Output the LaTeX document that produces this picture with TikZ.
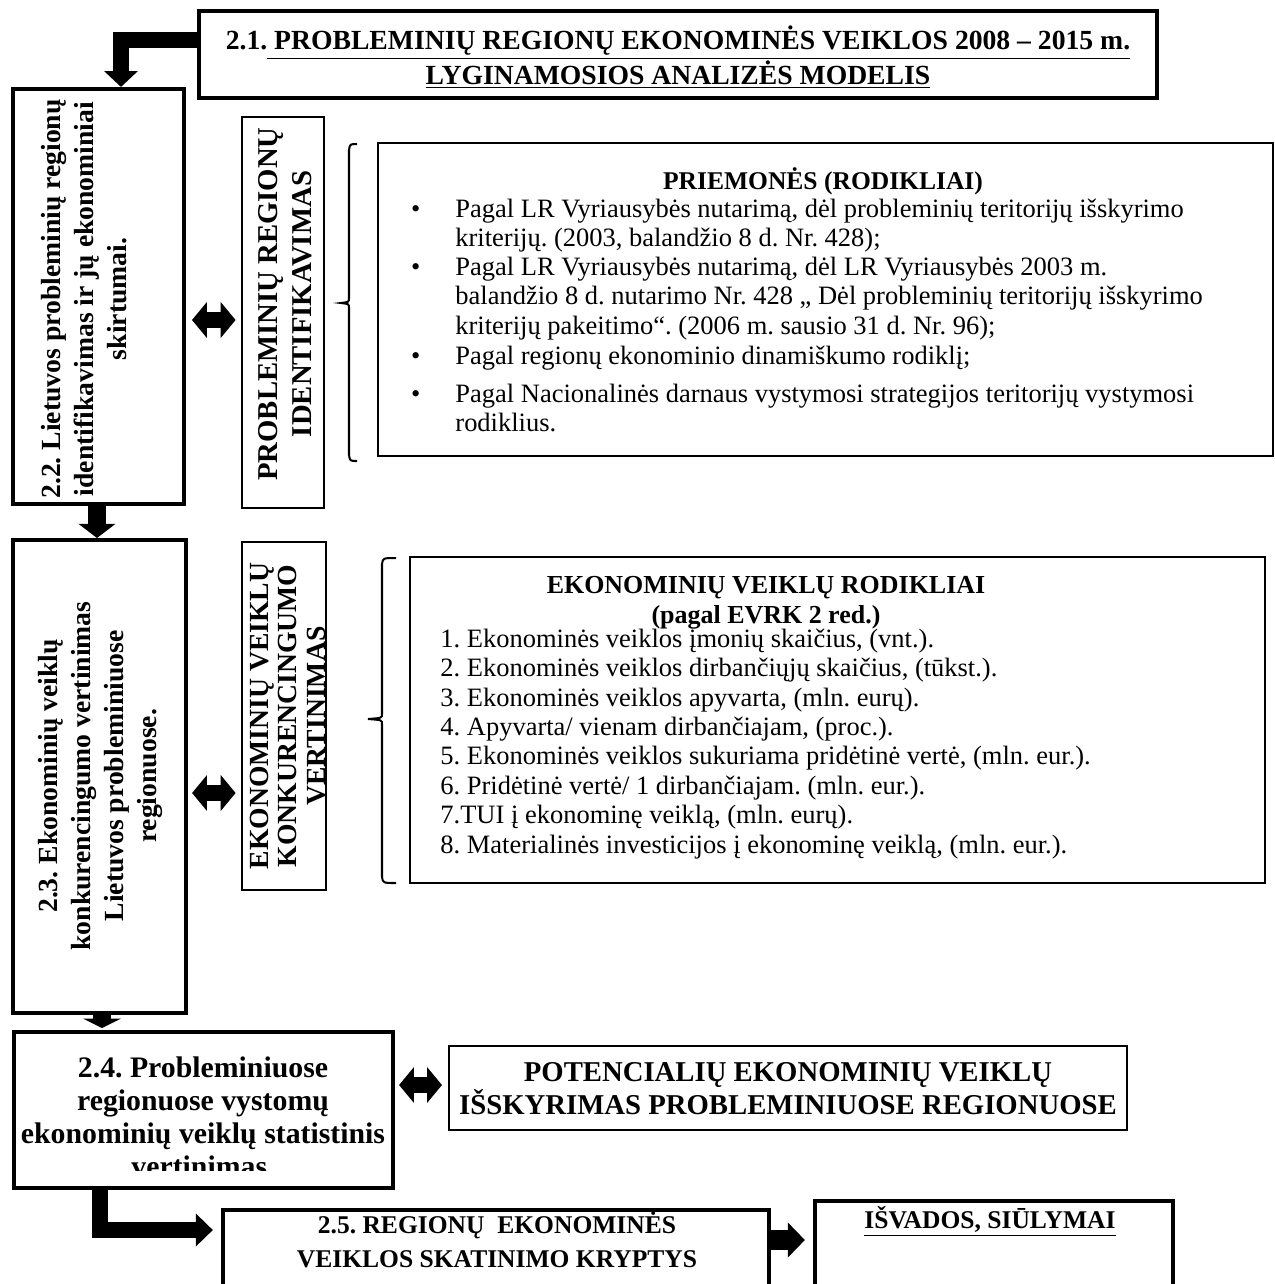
\documentclass[tikz,border=0pt]{standalone}
\usepackage{fontspec}
\setmainfont{Liberation Serif}
\usetikzlibrary{arrows.meta,fit}
\frenchspacing
\begin{document}
\begin{tikzpicture}[x=0.47pt,y=-0.47pt,
  bxthick/.style={draw, line width=1.9pt, inner sep=0pt},
  bxmed/.style={draw, line width=1.2pt, inner sep=0pt},
  bxpot/.style={draw, line width=1pt, inner sep=0pt},
  bxthin/.style={draw, line width=0.6pt, inner sep=0pt},
  blk/.style={draw=black, line join=miter, line cap=butt},
  dbl/.style={draw=black, line width=7.5pt, >={Triangle[width=16.5pt,length=7pt]}, <->},
  lst/.style={inner sep=0pt, anchor=north west, align=left, font=\fontsize{12.45}{13.8}\selectfont},
  vtxt/.style={inner sep=0pt, rotate=90, align=center},
  brc/.style={draw=black, line width=0.95pt}
]
\useasboundingbox (0,0) rectangle (1275,1284);
\clip (0,0) rectangle (1275,1284);

% boxes
\node[bxthick, fit={(199,11) (1157,98)}] (b21) {};
\node[bxthick, fit={(13,89) (184,504)}] (b22) {};
\node[bxthick, fit={(13,540) (186,1013)}] (b23) {};
\node[bxthick, fit={(14,1032) (393,1188)}] (b24) {};
\node[bxthick, fit={(223,1210) (769,1300)}] (b25) {};
\node[bxthick, fit={(815,1201) (1173,1300)}] (isv) {};
\node[bxmed, fit={(242,117) (324,508)}] (pid) {};
\node[bxmed, fit={(242,542) (326,890)}] (ekv) {};
\node[bxthin, fit={(378,143) (1273,456)}] (pri) {};
\node[bxthin, fit={(410,557) (1265,883)}] (rod) {};
\node[bxpot, fit={(449,1046) (1127,1130)}] (pot) {};

% texts
\node[inner sep=0pt, anchor=north, align=center, font=\fontsize{13}{16.45}\selectfont\bfseries] (t21) at (678,24.5)
  {\strut 2.1.\underline{ PROBLEMINIŲ REGIONŲ EKONOMINĖS VEIKLOS 2008 – 2015 m.}\\\underline{LYGINAMOSIOS ANALIZĖS MODELIS}};

\node[vtxt, font=\fontsize{13}{15.5}\selectfont\bfseries] (t22) at (84,299)
  {2.2. Lietuvos probleminių regionų\\identifikavimas ir jų ekonominiai\\skirtumai.};
\node[vtxt, font=\fontsize{13}{15.5}\selectfont\bfseries] (t23) at (100,776)
  {2.3. Ekonominių veiklų\\konkurencingumo vertinimas\\Lietuvos probleminiuose\\regionuose.};
\node[vtxt, font=\fontsize{13.5}{16}\selectfont\bfseries] (tpid) at (285,304)
  {PROBLEMINIŲ REGIONŲ\\IDENTIFIKAVIMAS};
\node[vtxt, font=\fontsize{13}{13.2}\selectfont\bfseries] (tekv) at (288,716)
  {EKONOMINIŲ VEIKLŲ\\KONKURENCINGUMO\\VERTINIMAS};

\node[inner sep=0pt, anchor=base, font=\fontsize{12}{13.8}\selectfont\bfseries] (ph) at (823,189) {PRIEMONĖS (RODIKLIAI)};
\node[lst] (p1) at (455,196.5) {\strut\llap{\textbullet\hspace{16.5pt}}Pagal LR Vyriausybės nutarimą, dėl probleminių teritorijų išskyrimo\\kriterijų. (2003, balandžio 8 d. Nr. 428);};
\node[lst] (p2) at (455,254.5) {\strut\llap{\textbullet\hspace{16.5pt}}Pagal LR Vyriausybės nutarimą, dėl LR Vyriausybės 2003 m.\\balandžio 8 d. nutarimo Nr. 428 „ Dėl probleminių teritorijų išskyrimo\\kriterijų pakeitimo“. (2006 m. sausio 31 d. Nr. 96);};
\node[lst] (p3) at (455,343.5) {\strut\llap{\textbullet\hspace{16.5pt}}Pagal regionų ekonominio dinamiškumo rodiklį;};
\node[lst] (p4) at (455,381.5) {\strut\llap{\textbullet\hspace{16.5pt}}Pagal Nacionalinės darnaus vystymosi strategijos teritorijų vystymosi\\rodiklius.};

\node[inner sep=0pt, anchor=north, align=center, font=\fontsize{12.2}{13.8}\selectfont\bfseries] (rh) at (766,573)
  {\strut EKONOMINIŲ VEIKLŲ RODIKLIAI\\(pagal EVRK 2 red.)};
\node[lst] (rl) at (440,626.5) {\strut 1. Ekonominės veiklos įmonių skaičius, (vnt.).\\
2. Ekonominės veiklos dirbančiųjų skaičius, (tūkst.).\\
3. Ekonominės veiklos apyvarta, (mln. eurų).\\
4. Apyvarta/ vienam dirbančiajam, (proc.).\\
5. Ekonominės veiklos sukuriama pridėtinė vertė, (mln. eur.).\\
6. Pridėtinė vertė/ 1 dirbančiajam. (mln. eur.).\\
7.TUI į ekonominę veiklą, (mln. eurų).\\
8. Materialinės investicijos į ekonominę veiklą, (mln. eur.).};

\begin{scope}
\clip (14,1034) rectangle (393,1170);
\node[inner sep=0pt, align=center, font=\fontsize{14}{15.4}\selectfont\bfseries] (t24) at (203,1117)
  {2.4. Probleminiuose\\regionuose vystomų\\ekonominių veiklų statistinis\\vertinimas.};
\end{scope}

\node[inner sep=0pt, align=center, font=\fontsize{13.5}{14.1}\selectfont\bfseries] (tpot) at (788,1089)
  {POTENCIALIŲ EKONOMINIŲ VEIKLŲ\\IŠSKYRIMAS PROBLEMINIUOSE REGIONUOSE};

\node[inner sep=0pt, align=center, font=\fontsize{12}{16}\selectfont\bfseries] (t25) at (497,1240)
  {2.5. REGIONŲ\ \ EKONOMINĖS\\VEIKLOS SKATINIMO KRYPTYS};
\node[inner sep=0pt, anchor=base, font=\fontsize{12}{13.8}\selectfont\bfseries] (tisv) at (990,1228)
  {\underline{IŠVADOS, SIŪLYMAI}};

% block arrows
\coordinate (ta) at (121,40);
\draw[blk, line width=7.8pt, -{Triangle[width=15.5pt,length=7.5pt]}] (b21.west |- ta) -- (ta) -- (ta |- b22.north);
\coordinate (tb) at (97,520);
\draw[blk, line width=8.5pt, -{Triangle[width=17pt,length=6.6pt]}] (b22.south -| tb) -- (b23.north -| tb);
\coordinate (tc) at (102,1020);
\draw[blk, line width=8.5pt, -{Triangle[width=17.9pt,length=4.5pt]}, shorten >=0.9pt] (b23.south -| tc) -- (b24.north -| tc);
\coordinate (td) at (100,1230);
\draw[blk, line width=7.5pt, -{Triangle[width=15pt,length=8pt]}, shorten >=3.8pt] (b24.south -| td) -- (td) -- (td -| b25.west);
\coordinate (te) at (790,1240);
\draw[blk, line width=9.4pt, -{Triangle[width=16pt,length=8pt]}, shorten >=3.8pt] (b25.east |- te) -- (isv.west |- te);

% double arrows
\coordinate (da) at (213,320);
\draw[dbl, shorten <=2.8pt, shorten >=2.4pt] (b22.east |- da) -- (pid.west |- da);
\coordinate (db) at (213,793);
\draw[dbl, shorten <=1.9pt, shorten >=2.4pt] (b23.east |- db) -- (ekv.west |- db);
\coordinate (dc) at (420,1085);
\draw[dbl, shorten <=1.9pt, shorten >=2.8pt] (b24.east |- dc) -- (pot.west |- dc);

% braces
\draw[brc] (357,144) .. controls (350,144) .. (349,150) -- (349,298) .. controls (349,302) .. (341,303) .. controls (349,304) .. (349,308) -- (349,455) .. controls (350,461) .. (357,461);
\draw[brc] (396,558) .. controls (383,558) .. (382,564) -- (382,714) .. controls (382,718) .. (368,719) .. controls (382,720) .. (382,724) -- (382,877) .. controls (383,883) .. (396,883);
\end{tikzpicture}
\end{document}
